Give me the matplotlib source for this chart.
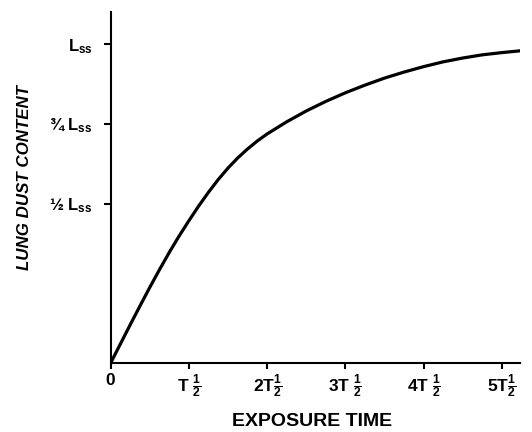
import matplotlib
matplotlib.use("Agg")
import matplotlib.pyplot as plt

# Data (time in half-times, content as fraction of L_ss)
time_halflives = [0, 0.125, 0.25, 0.375, 0.5, 0.625, 0.75, 0.875, 1.0, 1.125, 1.25,
                  1.375, 1.5, 1.625, 1.75, 1.875, 2.0, 2.25, 2.5, 2.75, 3.0, 3.25,
                  3.5, 3.75, 4.0, 4.25, 4.5, 4.75, 5.0, 5.25]
dust_content = [0, 0.060, 0.120, 0.179, 0.237, 0.293, 0.347, 0.398, 0.446, 0.492, 0.535,
                0.575, 0.611, 0.643, 0.671, 0.696, 0.718, 0.756, 0.790, 0.820, 0.847,
                0.871, 0.893, 0.912, 0.929, 0.944, 0.956, 0.966, 0.973, 0.979]

x_ticks = [0, 1, 2, 3, 4, 5]
x_tick_labels = ["0",
                 r"T $\frac{1}{2}$",
                 r"2T$\frac{1}{2}$",
                 r"3T $\frac{1}{2}$",
                 r"4T $\frac{1}{2}$",
                 r"5T$\frac{1}{2}$"]
y_ticks = [0.5, 0.75, 1.0]
y_tick_labels = ["½ L$_{ss}$", "¾ L$_{ss}$", "L$_{ss}$"]
x_label = "EXPOSURE TIME"
y_label = "LUNG DUST CONTENT"

plt.rcParams['font.family'] = ['Liberation Sans', 'DejaVu Sans']
plt.rcParams['mathtext.fontset'] = 'custom'
plt.rcParams['mathtext.rm'] = 'Liberation Sans:bold'
plt.rcParams['mathtext.it'] = 'Liberation Sans:bold'
plt.rcParams['mathtext.bf'] = 'Liberation Sans:bold'

fig = plt.figure(figsize=(5.32, 4.32), dpi=100)
ax = fig.add_axes([0.208, 0.1597, 0.977 - 0.208, 0.972 - 0.1597])

ax.plot(time_halflives, dust_content, color='black', lw=2.3, solid_capstyle='round',
        solid_joinstyle='round')

ax.set_xlim(0, 5.23)
ax.set_ylim(0, 1.10)

for s in ['top', 'right']:
    ax.spines[s].set_visible(False)
for s in ['left', 'bottom']:
    ax.spines[s].set_linewidth(1.5)

ax.set_xticks(x_ticks)
ax.set_xticklabels(x_tick_labels, fontsize=12.5, fontweight='bold')
ax.set_yticks(y_ticks)
ax.set_yticklabels(y_tick_labels, fontsize=12, fontweight='bold')
ax.tick_params(axis='x', direction='out', length=4, width=1.5, pad=3)
ax.tick_params(axis='y', direction='out', length=5, width=1.5, pad=8)

fig.text(0.587, 1 - 421 / 432, x_label, ha='center', va='center',
         fontsize=14, fontweight='bold')
fig.text(25 / 532, 1 - 178 / 432, y_label, ha='center', va='center',
         rotation=90, fontsize=12.2, fontweight='bold', style='italic')

fig.savefig("out.png", dpi=100)
